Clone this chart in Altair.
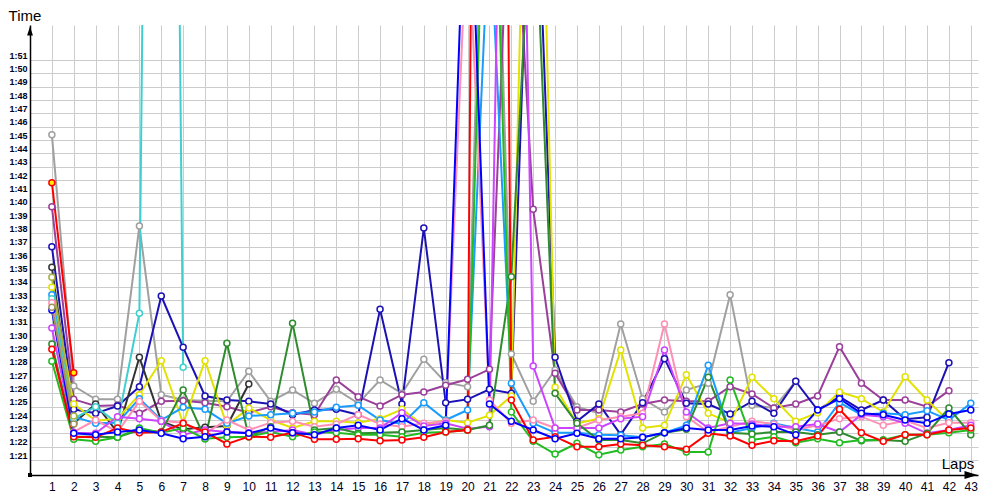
import altair as alt
import pandas as pd

laps = list(range(1, 44))

# lap times in seconds (None = no lap)
gray = [105.4, 86.55, 85.55, 85.55, 98.55, 85.9, 85.5, 85.45, 85.4, 87.65, 85.4, 86.25, 85.25, 86.3, 85.25, 87.0, 86.0, 88.55, 86.8, 86.5, 144.75, 88.95, 85.4, 87.75, 85.0, 84.5, 91.2, 85.6, 84.6, 86.25, 86.75, 93.4, 85.1, 84.9, 86.9]
purple = [100.0, 85.55, 85.05, 85.1, 84.5, 85.4, 85.45, 85.3, 85.0, 84.55, 85.0, 84.55, 84.4, 87.0, 85.75, 85.05, 85.9, 86.1, 86.6, 87.05, 87.8, 128.6, 99.8, 87.5, 84.75, 84.75, 84.6, 85.2, 85.5, 85.4, 85.4, 86.5, 85.95, 84.9, 85.2, 85.8, 89.5, 86.75, 85.5, 85.5, 85.0, 86.2]
darkblue = [97.0, 84.8, 84.5, 85.05, 86.5, 93.3, 89.45, 85.8, 85.5, 85.4, 85.2, 84.4, 84.75, 84.8, 84.4, 92.3, 85.2, 98.4, 85.3, 85.55, 86.3, 86.0, 132.6, 88.7, 83.9, 85.2, 82.9, 85.3, 88.6, 85.25, 85.2, 84.45, 85.4, 84.5, 86.9, 84.75, 85.75, 84.75, 85.5, 84.05, 84.2, 88.3]
black = [95.45, 83.75, 85.2, 83.05, 88.7, 83.9, 83.3, 83.45, 83.55, 86.7]
yellow = [93.95, 85.2, 83.95, 84.1, 85.9, 88.45, 83.75, 88.45, 83.6, 84.9, 84.0, 83.4, 83.9, 83.9, 83.8, 84.1, 84.8, 83.6, 84.0, 83.8, 84.35, 85.8, 155.0, 86.45, 83.75, 84.1, 89.25, 83.4, 83.6, 87.4, 84.5, 83.8, 87.2, 85.6, 83.9, 84.55, 86.1, 85.6, 84.6, 87.25, 85.5, 83.9]
sky = [93.4, 84.25, 83.75, 83.8, 85.6, 84.0, 84.95, 84.8, 83.75, 84.3, 84.4, 84.5, 84.6, 84.95, 85.1, 84.0, 83.7, 85.3, 84.0, 84.75, 122.0, 86.75, 83.75, 83.05, 83.05, 82.9, 82.85, 82.7, 83.05, 83.6, 88.1, 83.05, 83.4, 83.75, 83.4, 83.1, 85.3, 84.4, 84.5, 84.4, 84.7, 84.0, 85.25]
cyan = [93.1, 84.1, 85.0, 83.75, 92.0, 255.0, 87.95]
pink = [92.8, 83.1, 84.0, 83.1, 85.4, 83.95, 83.8, 83.0, 84.0, 83.25, 83.8, 83.9, 83.5, 83.7, 84.4, 83.7, 83.5, 83.75, 83.9, 122.0, 85.5, 83.75, 84.0, 83.4, 83.4, 84.0, 84.25, 84.5, 91.2, 84.25, 83.1, 83.5, 83.9, 83.7, 83.25, 83.6, 84.1, 84.25, 83.6, 83.95, 83.4, 83.8, 83.8]
magenta = [90.9, 83.05, 83.0, 84.25, 84.1, 83.9, 82.9, 83.25, 83.1, 83.05, 83.1, 83.25, 82.9, 83.25, 83.4, 83.4, 84.55, 83.55, 83.75, 83.35, 83.5, 175.0, 88.05, 83.4, 83.4, 83.4, 84.1, 84.25, 89.25, 84.6, 83.4, 83.75, 83.7, 83.5, 83.5, 83.7, 83.1, 84.4, 84.25, 83.75, 83.0, 83.25, 83.6]
darkgreen = [89.7, 82.75, 82.75, 82.7, 83.25, 83.1, 86.25, 82.6, 89.75, 82.75, 83.5, 91.25, 83.25, 83.4, 83.0, 83.05, 83.1, 83.25, 83.4, 83.25, 83.6, 94.75, 126.0, 86.0, 83.75, 82.5, 82.5, 82.25, 83.05, 83.3, 87.2, 83.05, 82.95, 83.1, 83.1, 82.9, 83.1, 82.45, 82.5, 82.4, 83.0, 84.9, 82.9]
green = [88.4, 82.55, 82.4, 82.7, 83.4, 83.05, 83.4, 82.6, 82.7, 82.75, 83.1, 82.75, 83.1, 83.05, 82.9, 82.9, 82.75, 83.05, 83.1, 83.25, 140.0, 84.6, 82.4, 81.45, 82.25, 81.4, 81.75, 82.0, 82.2, 81.6, 81.6, 87.0, 82.5, 82.75, 82.3, 82.6, 82.3, 82.5, 82.5, 82.9, 82.9, 83.05, 83.25]
red = [89.3, 82.75, 82.7, 83.4, 83.05, 83.1, 83.75, 83.1, 82.2, 82.75, 82.7, 83.05, 82.55, 82.55, 82.6, 82.45, 82.5, 82.7, 83.1, 83.25, 300.0, 85.5, 82.5, 82.75, 82.0, 82.0, 82.2, 82.1, 82.0, 81.8, 83.0, 82.8, 82.1, 82.45, 82.4, 82.8, 84.8, 83.05, 82.4, 82.9, 82.9, 83.25, 83.4]
blue = [92.25, 83.0, 82.9, 83.1, 83.25, 83.0, 82.6, 82.75, 83.1, 83.0, 83.4, 83.05, 82.9, 83.4, 83.6, 83.25, 84.1, 83.25, 83.6, 130.0, 85.2, 83.9, 83.25, 82.6, 83.0, 82.6, 82.6, 82.7, 83.05, 83.4, 83.25, 83.25, 83.55, 83.5, 82.9, 84.75, 85.6, 84.5, 84.4, 84.0, 83.75, 84.45, 84.75]
redyellow = [101.8, 87.55]
olive = [94.7, 84.3]
tan = [92.45, 83.7]

series_names = ["gray", "purple", "darkblue", "black", "yellow", "sky", "cyan", "pink",
                "magenta", "darkgreen", "green", "red", "blue", "redyellow", "olive", "tan"]
series_values = [gray, purple, darkblue, black, yellow, sky, cyan, pink,
                 magenta, darkgreen, green, red, blue, redyellow, olive, tan]
line_colors = ["#a0a0a0", "#9a3f9a", "#1c12b4", "#333333", "#e2e200", "#1a9cff", "#3fcfcf", "#ff8fb4",
               "#cc44ff", "#2e8b2e", "#22bb22", "#ff0000", "#0000ff", "#ff0000", "#a8b040", "#a09060"]
fill_colors = ["#ffffff"] * 13 + ["#ffee00", "#ffffff", "#ffffff"]
y_ticks = list(range(81, 112))

rows = []
for name, vals in zip(series_names, series_values):
    for lap, v in zip(laps, vals):
        if v is not None:
            rows.append({"driver": name, "lap": lap, "time": v})
df = pd.DataFrame(rows)

x_enc = alt.X("lap:Q",
              scale=alt.Scale(domain=[0, 43.33], nice=False, zero=False),
              axis=alt.Axis(values=laps, title=None, grid=True, gridColor="#cccccc", gridWidth=1,
                            domain=True, domainColor="#000000", domainWidth=1.5, ticks=False,
                            labelFontSize=12, labelFont="Liberation Sans", labelColor="#000022",
                            labelPadding=6, labelOverlap=False, labelBound=False, labelFlush=False))
y_enc = alt.Y("time:Q",
              scale=alt.Scale(domain=[79.875, 113.625], nice=False, zero=False),
              axis=alt.Axis(values=y_ticks, title=None, grid=True, gridColor="#cccccc",
                            gridWidth=1, domain=True, domainColor="#000000", domainWidth=1.5,
                            ticks=False, labelFontSize=9, labelFontWeight="bold",
                            labelFont="Liberation Sans", labelColor="#000022", labelPadding=3,
                            labelBaseline="alphabetic", labelOffset=-2, labelOverlap=False,
                            labelBound=False, labelFlush=False,
                            labelExpr="floor(datum.value/60) + ':' + (datum.value % 60 < 10 ? '0' : '') + (datum.value % 60)"))
color_enc = alt.Color("driver:N", scale=alt.Scale(domain=series_names, range=line_colors), legend=None)
stroke_enc = alt.Stroke("driver:N", scale=alt.Scale(domain=series_names, range=line_colors), legend=None)
fill_enc = alt.Fill("driver:N", scale=alt.Scale(domain=series_names, range=fill_colors), legend=None)

base = alt.Chart(df)
lines = base.mark_line(strokeWidth=2, clip=True).encode(x=x_enc, y=y_enc, color=color_enc, detail="driver:N")
points = base.mark_point(shape="circle", filled=False, size=36, strokeWidth=1.5, clip=True, opacity=1).encode(
    x=x_enc, y=y_enc, stroke=stroke_enc, fill=fill_enc)

deco = pd.DataFrame({"k": [0]})
yarrow = alt.Chart(deco).mark_point(shape="M-0.65,1L0,-1L0.65,1Z", filled=True, color="#000000", size=81, opacity=1).encode(
    x=alt.value(0), y=alt.value(6))
xarrow = alt.Chart(deco).mark_point(shape="M-1,-0.6L1,0L-1,0.6Z", filled=True, color="#000000", size=169, opacity=1).encode(
    x=alt.value(941), y=alt.value(450))
origin = alt.Chart(deco).mark_square(color="#000000", size=16, opacity=1).encode(x=alt.value(0), y=alt.value(450))
ttl_time = alt.Chart(deco).mark_text(text="Time", fontSize=15, font="Liberation Sans", color="#000000",
                                      align="center", baseline="middle").encode(x=alt.value(-5), y=alt.value(-9))
ttl_laps = alt.Chart(deco).mark_text(text="Laps", fontSize=15, font="Liberation Sans", color="#000000",
                                      align="center", baseline="middle").encode(x=alt.value(928), y=alt.value(439))

chart = alt.layer(lines, points, yarrow, xarrow, origin, ttl_time, ttl_laps).properties(
    width=948, height=450,
    autosize=alt.AutoSizeParams(type="none"),
    padding={"left": 22, "top": 17, "right": 12, "bottom": 17},
    background="#ffffff",
).configure_view(strokeWidth=0).configure_axis(labelOverlap=False)

chart.save("out.html", embed_options={"renderer": "svg", "actions": False})
